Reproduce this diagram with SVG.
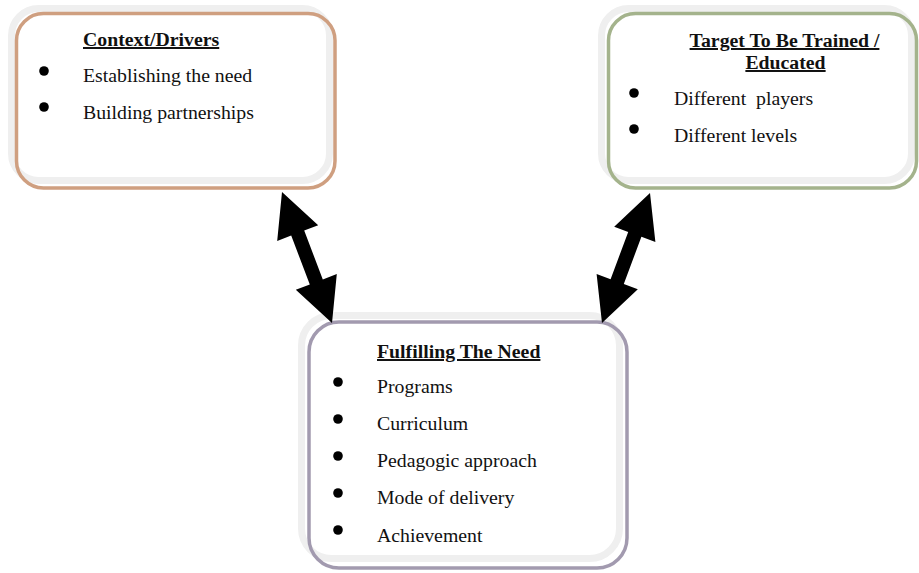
<svg xmlns="http://www.w3.org/2000/svg" width="919" height="573" viewBox="0 0 919 573">
  <style>
    .band { fill: #ffffff; stroke: #efefef; stroke-width: 7; }
    .edge { fill: none; stroke-width: 3.5; }
    .tan { stroke: #cf9f80; }
    .green { stroke: #a4b38c; }
    .purple { stroke: #a29aaf; }
    text { font-family: "Liberation Serif", "Times New Roman", serif; font-size: 19.8px; fill: #111; }
    .title { font-weight: bold; text-decoration: underline; }
    .dot { fill: #000; }
    .arrow { fill: #000; }
  </style>
  <rect width="919" height="573" fill="#ffffff"/>

  <g id="context-drivers">
    <rect class="band" x="11.5" y="8.5" width="318" height="172" rx="27"/>
    <rect class="edge tan" x="16.5" y="13.5" width="318.5" height="174.5" rx="27"/>
    <text class="title" x="83" y="46">Context/Drivers</text>
    <circle class="dot" cx="44" cy="71" r="4.8"/>
    <text x="83" y="82">Establishing the need</text>
    <circle class="dot" cx="44" cy="107" r="4.8"/>
    <text x="83" y="119">Building partnerships</text>
  </g>

  <g id="target-trained">
    <rect class="band" x="601.5" y="8.5" width="310" height="172" rx="27"/>
    <rect class="edge green" x="608.5" y="13.5" width="308" height="174.5" rx="27"/>
    <text class="title" x="784.5" y="47" text-anchor="middle">Target To Be Trained /</text>
    <text class="title" x="785.5" y="69" text-anchor="middle">Educated</text>
    <circle class="dot" cx="634" cy="93" r="4.8"/>
    <text x="674" y="105" xml:space="preserve">Different  players</text>
    <circle class="dot" cx="634" cy="129" r="4.8"/>
    <text x="674" y="142">Different levels</text>
  </g>

  <g id="fulfilling-need">
    <rect class="band" x="301.5" y="315.5" width="318" height="243" rx="30"/>
    <rect class="edge purple" x="309" y="322" width="318" height="246" rx="30"/>
    <text class="title" x="377" y="358">Fulfilling The Need</text>
    <circle class="dot" cx="338" cy="382" r="4.8"/>
    <text x="377" y="393">Programs</text>
    <circle class="dot" cx="338" cy="419" r="4.8"/>
    <text x="377" y="430">Curriculum</text>
    <circle class="dot" cx="338" cy="456" r="4.8"/>
    <text x="377" y="467">Pedagogic approach</text>
    <circle class="dot" cx="338" cy="493" r="4.8"/>
    <text x="377" y="504">Mode of delivery</text>
    <circle class="dot" cx="338" cy="530" r="4.8"/>
    <text x="377" y="542">Achievement</text>
  </g>

  <g id="connectors">
    <!-- two-headed arrow: Context/Drivers <-> Fulfilling The Need -->
    <polygon class="arrow" points="282,192 318.2,225.2 304.2,230.6 322.8,279.4 336.8,274 332,323 295.8,289.8 309.8,284.4 291.2,235.6 277.2,241"/>
    <!-- two-headed arrow: Target To Be Trained <-> Fulfilling The Need -->
    <polygon class="arrow" points="650,193 655.4,241.9 641.4,236.7 623.8,284.1 637.8,289.3 602,323 596.6,274.1 610.6,279.3 628.2,231.9 614.2,226.7"/>
  </g>
</svg>
